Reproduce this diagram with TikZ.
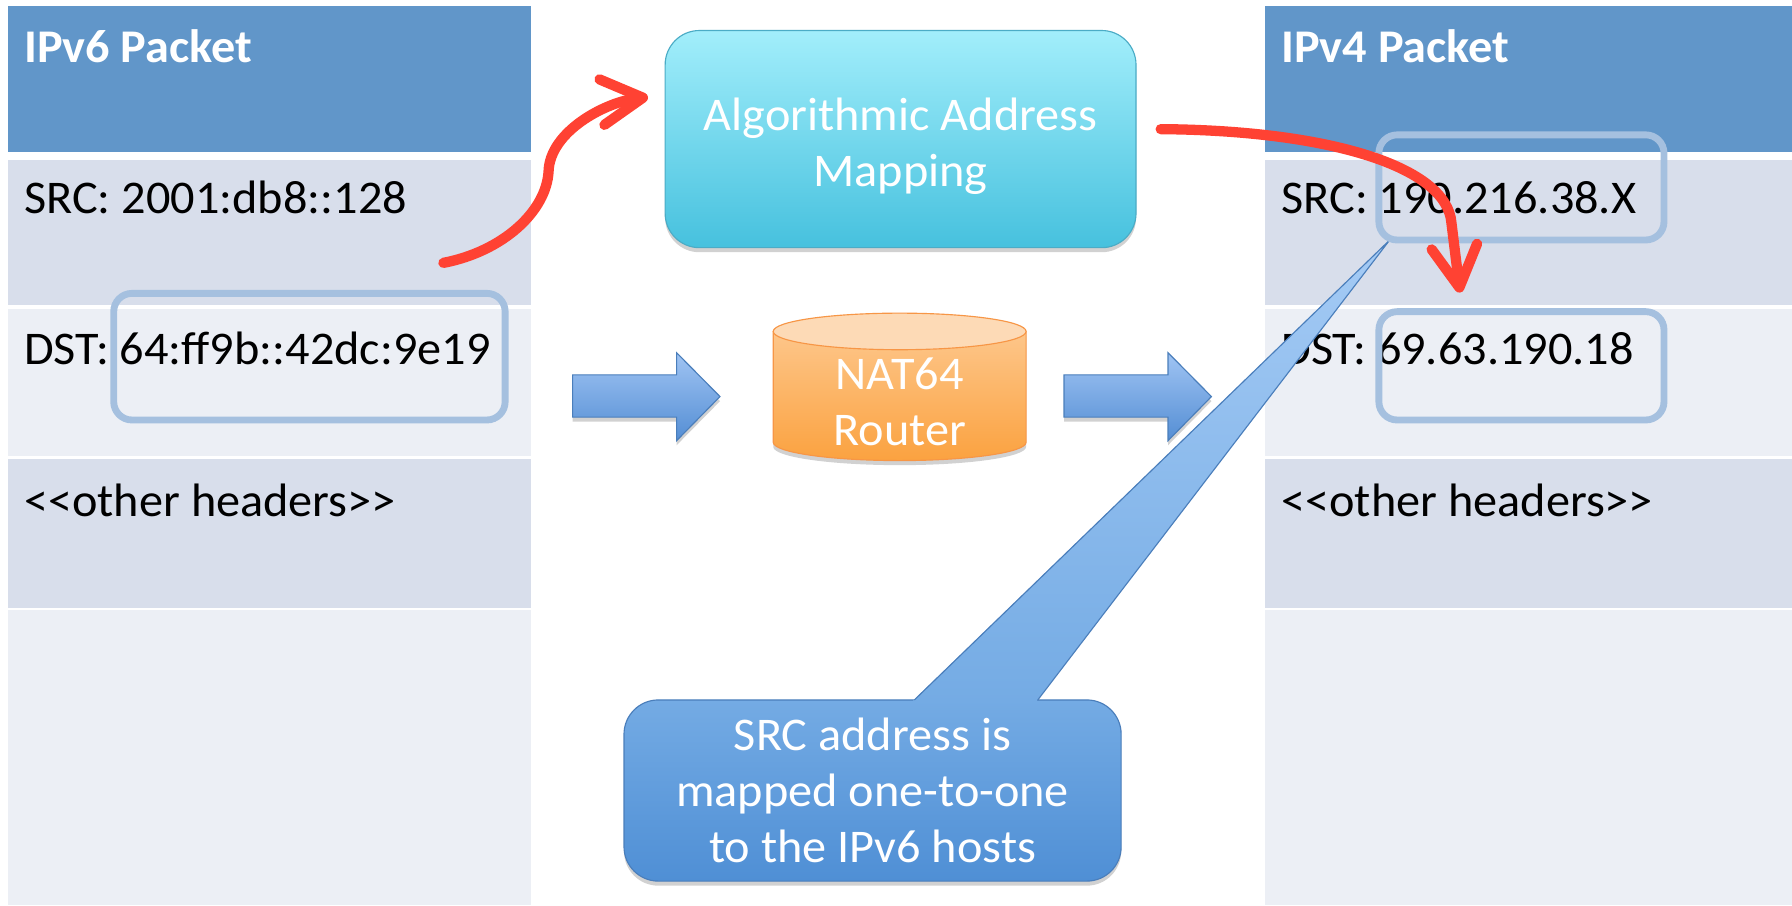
\documentclass[tikz,border=0pt]{standalone}
\usepackage{fontspec}
\setmainfont{Carlito}[FakeStretch=1.03]
\usetikzlibrary{arrows.meta,shadows}

\definecolor{headblue}{RGB}{97,150,201}
\definecolor{rowdark}{RGB}{216,222,235}
\definecolor{rowlight}{RGB}{236,239,245}
\definecolor{hiline}{RGB}{165,192,223}
\definecolor{redarrow}{RGB}{255,66,51}
\definecolor{maptop}{RGB}{162,238,251}
\definecolor{mapbot}{RGB}{70,193,222}
\definecolor{mapline}{RGB}{75,172,198}
\definecolor{cyltop}{RGB}{253,218,182}
\definecolor{cylupper}{RGB}{253,198,138}
\definecolor{cyllower}{RGB}{251,162,64}
\definecolor{cylline}{RGB}{247,150,70}
\definecolor{arrtop}{RGB}{160,196,243}
\definecolor{arrbot}{RGB}{84,142,212}
\definecolor{arrline}{RGB}{74,126,187}
\definecolor{notetop}{RGB}{116,171,228}
\definecolor{notebot}{RGB}{79,143,213}
\definecolor{tiptop}{RGB}{165,203,245}

\tikzset{
  cell/.style={font=\fontsize{41}{49}\selectfont, anchor=base west, inner sep=0pt},
  headcell/.style={cell, text=white, font=\fontsize{41}{49}\selectfont\bfseries},
  boxtext/.style={font=\fontsize{41}{49}\selectfont, text=white, align=center, inner sep=0pt},
  hilite/.style={draw=hiline, line width=6pt, rounded corners=16pt, inner sep=0pt},
  softshadow/.style={drop shadow={shadow xshift=0pt, shadow yshift=-4pt, opacity=0.18, fill=black}},
  mapbox/.style={top color=maptop, bottom color=mapbot, draw=mapline, line width=1pt, rounded corners=30pt, softshadow},
  notebox/.style={boxtext, top color=notetop, bottom color=notebot, draw=arrline, line width=1pt, rounded corners=30pt, softshadow},
  blockarrow/.style={top color=arrtop, bottom color=arrbot, draw=arrline, line width=1pt, softshadow},
  redline/.style={draw=redarrow, line width=9pt, line cap=round, -{Straight Barb[length=36pt, width=40pt, round]}}
}

\begin{document}
\begin{tikzpicture}[x=1pt, y=-1pt]

\useasboundingbox (0,0) rectangle (1568,792);
\fill[white] (0,0) rectangle (1568,792);

% the two packet tables
\foreach \x/\w in {7/458, 1107/461} {
  \fill[headblue] (\x,5) rectangle ++(\w,128);
  \fill[rowdark] (\x,140) rectangle ++(\w,127);
  \fill[rowlight] (\x,270) rectangle ++(\w,129);
  \fill[rowdark] (\x,402) rectangle ++(\w,130);
  \fill[rowlight] (\x,534) rectangle ++(\w,258);
}

\node[headcell] (v6head) at (21,55) {IPv6 Packet};
\node[cell] (v6src) at (21,187) {SRC: 2001:db8::128};
\node[cell] (v6dst) at (21,318.5) {DST: 64:ff9b::42dc:9e19};
\node[cell] (v6other) at (21,451.5) {<{}<other headers>{}>};

\node[headcell] (v4head) at (1121,55) {IPv4 Packet};
\node[cell] (v4src) at (1121,187) {SRC: 190.216.38.X};
\node[cell] (v4dst) at (1121,318.5) {DST: 69.63.190.18};
\node[cell] (v4other) at (1121,451.5) {<{}<other headers>{}>};

% mapping box
\node[mapbox, minimum width=412pt, minimum height=190pt] (map) at (788,121.7) {};
\node[boxtext] (maptext) at ([yshift=-6.3pt]map.center) {Algorithmic Address\\Mapping};

% router cylinder
\path[top color=cylupper, bottom color=cyllower, draw=cylline, line width=1pt, softshadow]
  (676.6,290) -- (676.6,387) arc[start angle=180, end angle=0, x radius=110.6, y radius=16] -- (897.8,290) -- cycle;
\filldraw[fill=cyltop, draw=cylline, line width=1pt] (787.2,290) ellipse [x radius=110.6, y radius=16];
\node[boxtext] (router) at (787.2,352) {NAT64\\Router};

% block arrows
\foreach \x in {501, 931} {
  \path[blockarrow] (\x,328) -- (\x+91,328) -- (\x+91,308.6) -- (\x+129,347)
    -- (\x+91,385.6) -- (\x+91,365) -- (\x,365) -- cycle;
}

% callout
\node[notebox, minimum width=435pt, minimum height=158.5pt] (note) at (763.5,691.7)
  {SRC address is\\mapped one-to-one\\to the IPv6 hosts};
\coordinate (tip) at (1216,210);
\shade[top color=tiptop, bottom color=notetop] (798,614) -- (tip) -- (906.5,614) -- cycle;
\draw[arrline, line width=1pt] (800,612.5) -- (tip) -- (908,612.5);

% highlighted addresses
\node[hilite, minimum width=342.5pt, minimum height=110.8pt] (v6dstbox) at (270.75,312.1) {};
\node[hilite, minimum width=249.5pt, minimum height=92pt] (v4srcbox) at (1331.25,164) {};
\node[hilite, minimum width=249.5pt, minimum height=94.8pt] (v4dstbox) at (1331.25,320.1) {};

% red flow arrows
\coordinate (r1s) at (388,230);
\coordinate (r1e) at (567,85);
\draw[redline] (r1s) .. controls (440,220) and (478,185) .. (480,150)
  .. controls (481,115) and (530,89) .. (r1e);

\coordinate (r2s) at (1015.6,113);
\coordinate (r2e) at (1277.5,256);
\draw[redline] (r2s) .. controls (1160,114) and (1266,145) .. (1270,195) -- (r2e);

\end{tikzpicture}
\end{document}
